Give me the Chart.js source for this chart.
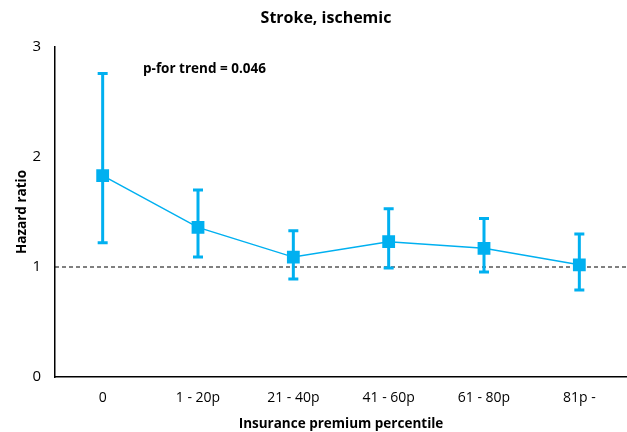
<!DOCTYPE html>
<html>
<head>
<meta charset="utf-8">
<script src="https://cdn.jsdelivr.net/npm/chart.js@4.4.0/dist/chart.umd.min.js"></script>
<style>
  html, body { margin: 0; padding: 0; background: #fff; }
  #wrap { width: 627px; height: 432px; }
</style>
</head>
<body>
<div id="wrap"><canvas id="chart"></canvas></div>
<script>
const categories = ['0', '1 - 20p', '21 - 40p', '41 - 60p', '61 - 80p', '81p -'];
const hazard = [1.83, 1.36, 1.09, 1.23, 1.17, 1.02];
const lower = [1.22, 1.09, 0.89, 0.99, 0.955, 0.79];
const upper = [2.76, 1.70, 1.33, 1.53, 1.44, 1.30];
const yTicks = [0, 1, 2, 3];

const blue = '#00b0f0';
const fontFam = "'Open Sans', 'Liberation Sans', sans-serif";

// error bars, reference line and the text bits
const extras = {
    id: 'extras',
    beforeDatasetsDraw(chart) {
        const ctx = chart.ctx;
        const x = chart.scales.x, y = chart.scales.y;
        const area = chart.chartArea;
        ctx.save();
        ctx.strokeStyle = '#000';
        ctx.lineWidth = 1;
        ctx.setLineDash([4, 3]);
        ctx.beginPath();
        ctx.moveTo(area.left, y.getPixelForValue(1));
        ctx.lineTo(area.right, y.getPixelForValue(1));
        ctx.stroke();
        ctx.setLineDash([]);

        ctx.strokeStyle = blue;
        ctx.lineWidth = 3;
        for (let i = 0; i < categories.length; i++) {
            let px = x.getPixelForValue(i);
            let top = y.getPixelForValue(upper[i]);
            let bot = y.getPixelForValue(lower[i]);
            ctx.beginPath();
            ctx.moveTo(px, top); ctx.lineTo(px, bot);
            ctx.moveTo(px - 5, top); ctx.lineTo(px + 5, top);
            ctx.moveTo(px - 5, bot); ctx.lineTo(px + 5, bot);
            ctx.stroke();
        }
        ctx.restore();
    },
    afterDraw(chart) {
        const ctx = chart.ctx;
        ctx.save();
        ctx.fillStyle = '#000';
        ctx.textBaseline = 'middle';
        ctx.textAlign = 'center';
        ctx.font = "bold 16px " + fontFam;
        ctx.fillText('Stroke, ischemic', 326, 18);
        ctx.textAlign = 'left';
        ctx.font = "bold 13.5px " + fontFam;
        ctx.fillText('p-for trend = 0.046', 143, 69);
        ctx.restore();
    }
};

new Chart(document.getElementById('chart'), {
    type: 'line',
    data: {
        labels: categories,
        datasets: [{
            data: hazard,
            borderColor: blue,
            backgroundColor: blue,
            borderWidth: 1.5,
            pointStyle: 'rect',
            pointRadius: 8,
            pointHoverRadius: 8,
            tension: 0
        }]
    },
    options: {
        responsive: true,
        maintainAspectRatio: false,
        animation: false,
        layout: { autoPadding: false, padding: { top: 47, right: -3, left: 0, bottom: 0 } },
        plugins: {
            legend: { display: false },
            tooltip: { enabled: false }
        },
        scales: {
            x: {
                offset: true,
                grid: { display: false },
                border: { display: true, color: '#000', width: 1.5 },
                ticks: { color: '#000', font: { family: fontFam, size: 14 }, padding: 5 },
                title: {
                    display: true,
                    text: 'Insurance premium percentile',
                    color: '#000',
                    font: { family: fontFam, size: 13.5, weight: 'bold' },
                    padding: { top: 4, bottom: 0 }
                },
                afterFit: (s) => { s.height = 55; s.paddingLeft = 0; s.paddingRight = 0; }
            },
            y: {
                min: 0,
                max: 3,
                grid: { display: false },
                border: { display: true, color: '#000', width: 1.5 },
                afterBuildTicks: (s) => { s.ticks = yTicks.map(v => ({ value: v })); },
                ticks: { color: '#000', font: { family: fontFam, size: 15 }, padding: 6 },
                title: {
                    display: true,
                    text: 'Hazard ratio',
                    color: '#000',
                    font: { family: fontFam, size: 13.5, weight: 'bold' },
                    padding: { top: 14, bottom: 0 }
                },
                afterFit: (s) => { s.width = 55; }
            }
        }
    },
    plugins: [extras]
});
</script>
</body>
</html>
